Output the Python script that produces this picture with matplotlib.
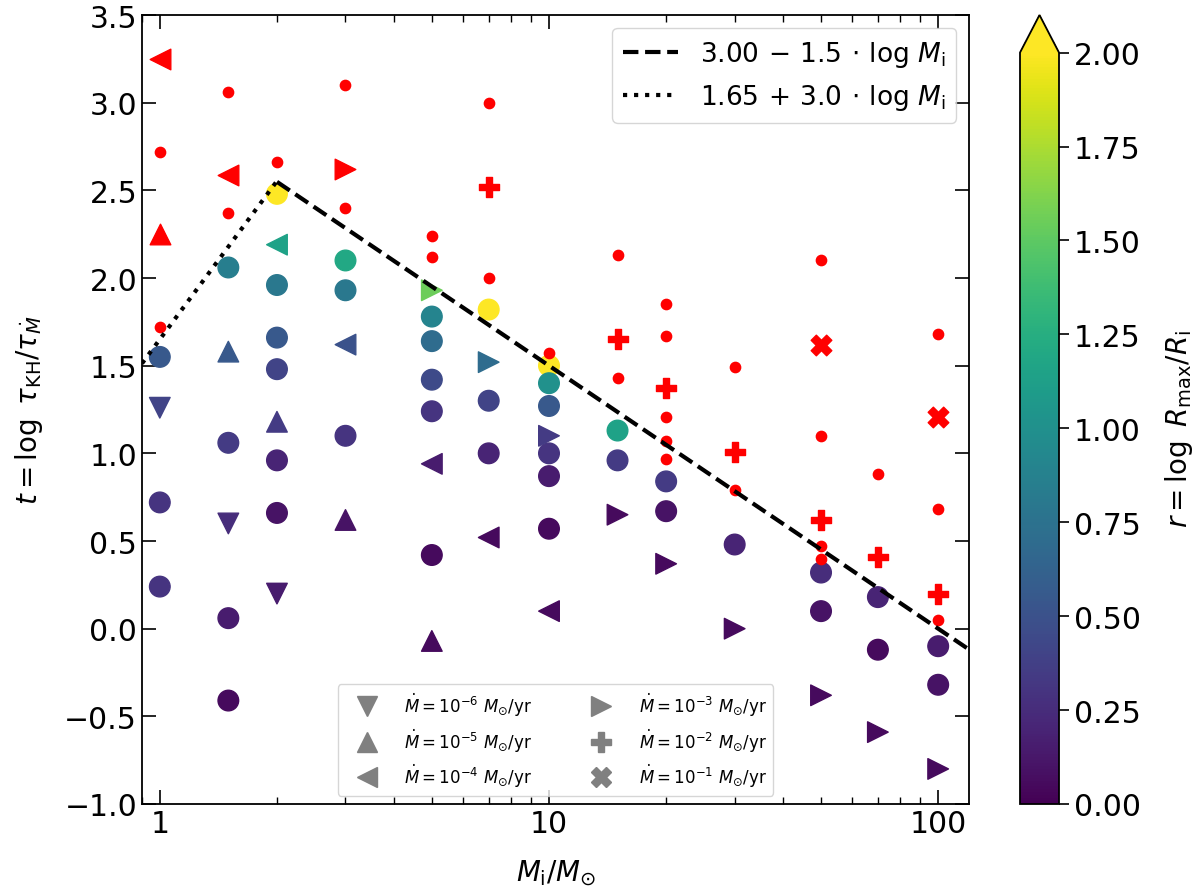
import matplotlib
matplotlib.use("Agg")
import matplotlib.pyplot as plt
import numpy as np
from matplotlib.lines import Line2D

# circles (no Mdot label)
circ_M = [1, 1, 1, 1.5, 1.5, 1.5, 1.5, 2, 2, 2, 2, 2, 2, 3, 3, 3,
          5, 5, 5, 5, 5, 7, 7, 7, 10, 10, 10, 10, 10, 10, 15, 15,
          20, 20, 30, 50, 50, 70, 70, 100, 100]
circ_t = [1.55, 0.72, 0.24, 2.06, 1.06, 0.06, -0.41, 2.48, 1.96, 1.66, 1.48, 0.96, 0.66,
          2.10, 1.93, 1.10, 1.78, 1.64, 1.42, 1.24, 0.42, 1.82, 1.30, 1.00,
          1.50, 1.40, 1.27, 1.00, 0.87, 0.57, 1.13, 0.96, 0.84, 0.67, 0.48,
          0.32, 0.10, 0.18, -0.12, -0.10, -0.32]
circ_r = [0.55, 0.3, 0.3, 0.85, 0.35, 0.15, 0.05, 2.0, 0.8, 0.55, 0.4, 0.2, 0.1,
          1.2, 0.8, 0.3, 0.9, 0.7, 0.45, 0.3, 0.05, 2.0, 0.4, 0.2,
          2.0, 1.0, 0.55, 0.3, 0.15, 0.05, 1.15, 0.35, 0.35, 0.1, 0.2,
          0.25, 0.1, 0.2, 0.05, 0.15, 0.1]

# Mdot = 1e-6 (down triangles)
m6_M = [1, 1.5, 2]
m6_t = [1.26, 0.60, 0.20]
m6_r = [0.4, 0.25, 0.15]
# Mdot = 1e-5 (up triangles)
m5_M = [1.5, 2, 3, 5]
m5_t = [1.58, 1.18, 0.62, -0.07]
m5_r = [0.55, 0.35, 0.1, 0.05]
# Mdot = 1e-4 (left triangles)
m4_M = [2, 3, 5, 7, 10]
m4_t = [2.19, 1.62, 0.94, 0.52, 0.10]
m4_r = [1.15, 0.5, 0.15, 0.05, 0.05]
# Mdot = 1e-3 (right triangles)
m3_M = [5, 7, 10, 15, 20, 30, 50, 70, 100]
m3_t = [1.93, 1.52, 1.10, 0.65, 0.37, 0.00, -0.38, -0.59, -0.80]
m3_r = [1.55, 0.7, 0.35, 0.05, 0.05, 0.05, 0.05, 0.05, 0.05]

# red (no result) points
red_dot_M = [1, 1, 1.5, 1.5, 2, 3, 3, 5, 5, 7, 7, 10, 15, 15,
             20, 20, 20, 20, 20, 30, 30, 50, 50, 50, 50, 70, 100, 100, 100]
red_dot_t = [2.72, 1.72, 3.06, 2.37, 2.66, 3.10, 2.40, 2.24, 2.12, 3.00, 2.00, 1.57, 2.13, 1.43,
             1.85, 1.67, 1.21, 1.07, 0.97, 1.49, 0.79, 2.10, 1.10, 0.47, 0.40, 0.88, 1.68, 0.68, 0.05]
red_m5_M, red_m5_t = [1], [2.25]
red_m4_M, red_m4_t = [1, 1.5], [3.25, 2.59]
red_m3_M, red_m3_t = [3], [2.62]
red_m2_M = [7, 15, 20, 30, 50, 70, 100]
red_m2_t = [2.52, 1.65, 1.37, 1.01, 0.62, 0.41, 0.20]
red_m1_M, red_m1_t = [50, 100], [1.62, 1.21]

plt.rcParams["font.size"] = 20
plt.rcParams["mathtext.fontset"] = "dejavusans"

fig = plt.figure(figsize=(12, 8.95), dpi=100)
ax = fig.add_axes([142 / 1200, 90 / 895, 827 / 1200, 789 / 895])
cax = fig.add_axes([1020 / 1200, 90 / 895, 39 / 1200, 789 / 895])

cmap = plt.get_cmap("viridis")
norm = plt.Normalize(0, 2)
s_big = 220

ax.scatter(circ_M, circ_t, c=circ_r, cmap=cmap, norm=norm, marker="o", s=s_big, zorder=3)
ax.scatter(m6_M, m6_t, c=m6_r, cmap=cmap, norm=norm, marker="v", s=s_big, zorder=3)
ax.scatter(m5_M, m5_t, c=m5_r, cmap=cmap, norm=norm, marker="^", s=s_big, zorder=3)
ax.scatter(m4_M, m4_t, c=m4_r, cmap=cmap, norm=norm, marker="<", s=s_big, zorder=3)
sc = ax.scatter(m3_M, m3_t, c=m3_r, cmap=cmap, norm=norm, marker=">", s=s_big, zorder=3)

ax.scatter(red_dot_M, red_dot_t, color="red", marker="o", s=55, zorder=3)
ax.scatter(red_m5_M, red_m5_t, color="red", marker="^", s=s_big, zorder=3)
ax.scatter(red_m4_M, red_m4_t, color="red", marker="<", s=s_big, zorder=3)
ax.scatter(red_m3_M, red_m3_t, color="red", marker=">", s=s_big, zorder=3)
ax.scatter(red_m2_M, red_m2_t, color="red", marker="P", s=s_big, zorder=3)
ax.scatter(red_m1_M, red_m1_t, color="red", marker="X", s=s_big, zorder=3)

# boundary lines
xd = np.array([2, 120])
l1, = ax.plot(xd, 3.00 - 1.5 * np.log10(xd), "k--", lw=3, zorder=4,
              label=r"$3.00\,-\,1.5\,\cdot\,\log\,M_{\rm i}$")
xt = np.array([0.9, 2])
l2, = ax.plot(xt, 1.65 + 3.0 * np.log10(xt), "k:", lw=3, zorder=4,
              label=r"$1.65\,+\,3.0\,\cdot\,\log\,M_{\rm i}$")

ax.set_xscale("log")
ax.set_xlim(0.9, 120)
ax.set_ylim(-1.0, 3.5)
ax.set_xticks([1, 10, 100])
ax.set_xticklabels(["1", "10", "100"])
ax.set_yticks(np.arange(-1.0, 3.51, 0.5))
ax.set_yticklabels(["%.1f" % v if v >= 0 else "\u2212%.1f" % abs(v)
                    for v in np.arange(-1.0, 3.51, 0.5)])
ax.tick_params(which="both", direction="in", top=True, right=True, labelsize=21.5)
ax.tick_params(which="major", length=10, width=1.2)
ax.tick_params(which="minor", length=5, width=1.0)
for sp in ax.spines.values():
    sp.set_linewidth(1.3)

ax.set_xlabel(r"$M_{\rm i}/M_{\odot}$", fontsize=20, labelpad=14)
ax.set_ylabel(r"$t = \log\ \tau_{\rm KH}/\tau_{\dot{M}}$", fontsize=20, labelpad=14)

leg1 = ax.legend(handles=[l1, l2], loc="upper right", fontsize=19, handlelength=2.1)
ax.add_artist(leg1)

gray = "grey"
handles = [
    Line2D([], [], ls="", marker="v", color=gray, ms=15, label=r"$\dot{M} = 10^{-6}\ M_{\odot}/{\rm yr}$"),
    Line2D([], [], ls="", marker="^", color=gray, ms=15, label=r"$\dot{M} = 10^{-5}\ M_{\odot}/{\rm yr}$"),
    Line2D([], [], ls="", marker="<", color=gray, ms=15, label=r"$\dot{M} = 10^{-4}\ M_{\odot}/{\rm yr}$"),
    Line2D([], [], ls="", marker=">", color=gray, ms=15, label=r"$\dot{M} = 10^{-3}\ M_{\odot}/{\rm yr}$"),
    Line2D([], [], ls="", marker="P", color=gray, ms=15, label=r"$\dot{M} = 10^{-2}\ M_{\odot}/{\rm yr}$"),
    Line2D([], [], ls="", marker="X", color=gray, ms=15, label=r"$\dot{M} = 10^{-1}\ M_{\odot}/{\rm yr}$"),
]
ax.legend(handles=handles, loc="lower center", ncol=2, fontsize=12,
          handlelength=2.7, columnspacing=2.8, handletextpad=0.9)

cb = fig.colorbar(sc, cax=cax, extend="max", ticks=np.arange(0, 2.01, 0.25), format="%.2f")
cb.ax.tick_params(labelsize=21.5, length=7, width=1.2)
cb.outline.set_linewidth(1.3)
cb.set_label(r"$r = \log\ R_{\rm max}/R_{\rm i}$", fontsize=20, labelpad=16)

fig.savefig("out.png", dpi=100)
